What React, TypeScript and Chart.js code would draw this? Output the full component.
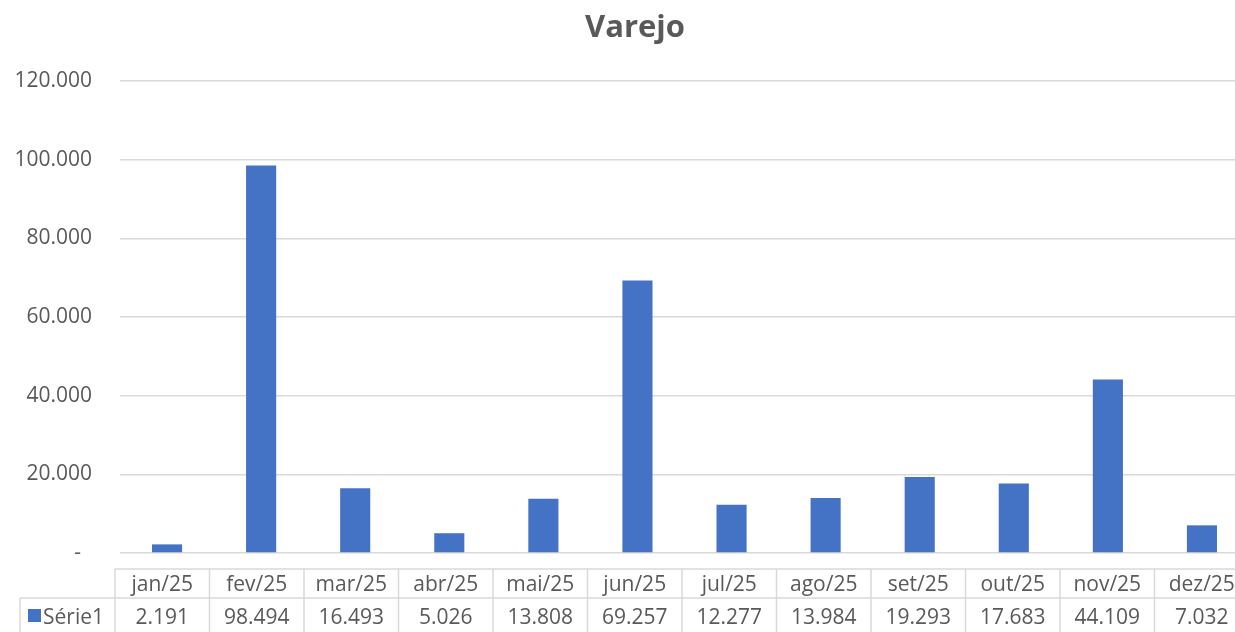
import React, { useEffect, useRef } from "react";
import { Chart, registerables } from "chart.js";

Chart.register(...registerables);

const chartTitle = "Varejo";
const categories = ["jan/25", "fev/25", "mar/25", "abr/25", "mai/25", "jun/25", "jul/25", "ago/25", "set/25", "out/25", "nov/25", "dez/25"];
const seriesName = "Série1";
const seriesValues = [2191, 98494, 16493, 5026, 13808, 69257, 12277, 13984, 19293, 17683, 44109, 7032];
const yMin = 0;
const yMax = 120000;
const yStep = 20000;

const BAR_COLOR = "#4472C4";
const TEXT_COLOR = "#595959";
const LINE_COLOR = "#D9D9D9";
const FONT = "'Open Sans', 'DejaVu Sans', sans-serif";

function fmt(v: number): string {
  return String(Math.round(v)).replace(/\B(?=(\d{3})+(?!\d))/g, ".");
}

const titlePlugin = {
  id: "excelTitle",
  afterDraw(chart: any) {
    const ctx = chart.ctx;
    ctx.save();
    ctx.font = `bold 31px ${FONT}`;
    ctx.fillStyle = TEXT_COLOR;
    ctx.textAlign = "center";
    ctx.textBaseline = "alphabetic";
    ctx.fillText(chartTitle, 635, 37);
    ctx.restore();
  },
};

const dataTablePlugin = {
  id: "dataTable",
  afterDraw(chart: any) {
    const ctx = chart.ctx;
    const { left, right, bottom } = chart.chartArea;
    const n = categories.length;
    const tableLeft = left - 5;
    const tableRight = right;
    const colW = (tableRight - tableLeft) / n;
    const headerTop = bottom + 16;
    const rowMid = headerTop + 29;
    const rowBottom = rowMid + 36;
    const legendLeft = 20;

    ctx.save();
    ctx.strokeStyle = LINE_COLOR;
    ctx.lineWidth = 1.5;
    ctx.beginPath();
    ctx.moveTo(tableLeft, headerTop);
    ctx.lineTo(tableRight, headerTop);
    ctx.moveTo(legendLeft, rowMid);
    ctx.lineTo(tableRight, rowMid);
    ctx.moveTo(legendLeft, rowBottom);
    ctx.lineTo(tableRight, rowBottom);
    ctx.moveTo(legendLeft, rowMid);
    ctx.lineTo(legendLeft, rowBottom);
    for (let i = 0; i <= n; i++) {
      const x = tableLeft + i * colW;
      ctx.moveTo(x, headerTop);
      ctx.lineTo(x, rowBottom);
    }
    ctx.stroke();

    ctx.font = `21px ${FONT}`;
    ctx.fillStyle = TEXT_COLOR;
    ctx.textAlign = "center";
    ctx.textBaseline = "alphabetic";
    for (let i = 0; i < n; i++) {
      const cx = tableLeft + (i + 0.5) * colW;
      ctx.fillText(categories[i], cx, headerTop + 22);
      ctx.fillText(fmt(seriesValues[i]), cx, rowMid + 26);
    }

    ctx.fillStyle = BAR_COLOR;
    ctx.fillRect(legendLeft + 8, rowMid + 11, 13, 13);
    ctx.fillStyle = TEXT_COLOR;
    ctx.textAlign = "left";
    ctx.fillText(seriesName, legendLeft + 23, rowMid + 26);
    ctx.restore();
  },
};

export default function App() {
  const canvasRef = useRef<HTMLCanvasElement | null>(null);

  useEffect(() => {
    document.body.style.margin = "0";
    const canvas = canvasRef.current;
    if (!canvas) return;
    const chart = new Chart(canvas, {
      type: "bar",
      data: {
        labels: categories,
        datasets: [
          {
            label: seriesName,
            data: seriesValues,
            backgroundColor: BAR_COLOR,
            borderWidth: 0,
            barPercentage: 1,
            categoryPercentage: 0.32,
          },
        ],
      },
      options: {
        responsive: false,
        animation: false,
        devicePixelRatio: 1,
        layout: { padding: { left: 0, right: 0, top: 81, bottom: 79 } },
        plugins: {
          legend: { display: false },
          title: { display: false },
          tooltip: { enabled: false },
        },
        scales: {
          x: {
            display: false,
            grid: { display: false },
          },
          y: {
            min: yMin,
            max: yMax,
            afterFit(scale: any) {
              scale.width = 120;
            },
            border: { display: false },
            grid: { color: LINE_COLOR, lineWidth: 1.5, drawTicks: false },
            ticks: {
              stepSize: yStep,
              padding: 28,
              color: TEXT_COLOR,
              font: { family: FONT, size: 21 },
              callback: (v: any) => (Number(v) === 0 ? "-  " : fmt(Number(v))),
            },
          },
        },
      },
      plugins: [titlePlugin, dataTablePlugin],
    });
    return () => chart.destroy();
  }, []);

  return (
    <div style={{ width: 1235, height: 632, overflow: "hidden", background: "#fff" }}>
      <canvas ref={canvasRef} width={1249} height={632} style={{ display: "block" }} />
    </div>
  );
}
